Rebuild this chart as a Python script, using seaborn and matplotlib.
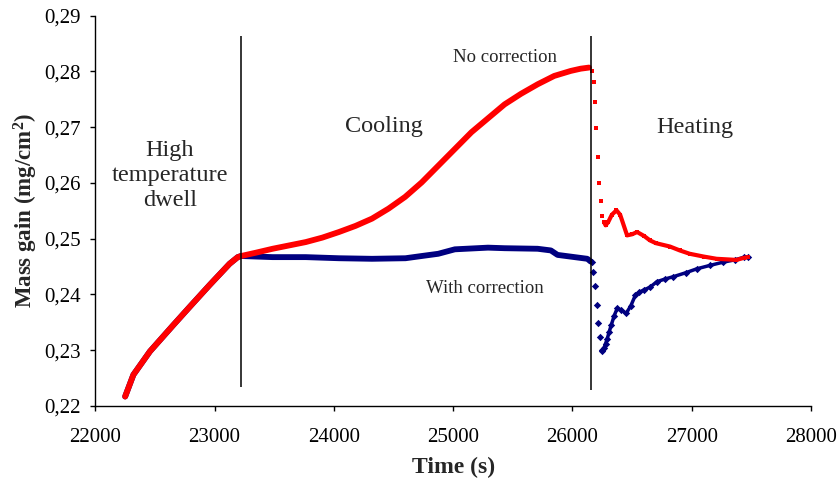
import numpy as np
import pandas as pd
import seaborn as sns
import matplotlib
matplotlib.use("Agg")
import matplotlib.pyplot as plt
from matplotlib.ticker import FuncFormatter

# dwell segment (both curves overlap here)
time_dwell = [22250, 22319, 22458, 22653, 22792, 22958, 23125, 23194, 23222]
mass_dwell = [0.2217, 0.2256, 0.2298, 0.2345, 0.2378, 0.2417, 0.2455, 0.2467, 0.2469]

# cooling segment
time_cool_red = [23222, 23347, 23486, 23625, 23764, 23903, 24042, 24181, 24319, 24458, 24597, 24736,
                 24875, 25014, 25153, 25292, 25431, 25569, 25708, 25847, 25986, 26069, 26139]
red_cool = [0.2469, 0.2475, 0.2482, 0.2488, 0.2494, 0.2502, 0.2512, 0.2523, 0.2536, 0.2554, 0.2575, 0.2601,
            0.2631, 0.2661, 0.2691, 0.2716, 0.2741, 0.2760, 0.2777, 0.2792, 0.2801, 0.2805, 0.2807]
time_cool_blue = [23222, 23486, 23764, 24042, 24319, 24600, 24736, 24875, 25014, 25292, 25431, 25708,
                  25819, 25875, 26125, 26153]
blue_cool = [0.2469, 0.2467, 0.2467, 0.2465, 0.2464, 0.2465, 0.2469, 0.2473, 0.2481, 0.2484, 0.2483, 0.2482,
             0.2479, 0.2471, 0.2464, 0.2459]

# heating: fast drop (separate points)
time_drop_red = [26161, 26181, 26189, 26200, 26214, 26225, 26236, 26250]
red_drop = [0.2801, 0.2781, 0.2746, 0.2698, 0.2646, 0.2600, 0.2568, 0.2541]
time_drop_blue = [26161, 26175, 26189, 26203, 26214, 26228, 26244]
blue_drop = [0.2458, 0.2441, 0.2415, 0.2382, 0.2348, 0.2323, 0.2301]

# heating: recovery
time_heat_red = [26264, 26278, 26300, 26330, 26369, 26400, 26458, 26500, 26542, 26600, 26650,
                 26700, 26817, 26900, 26983, 27100, 27208, 27375, 27442, 27470]
red_heat = [0.2530, 0.2524, 0.2530, 0.2543, 0.2551, 0.2543, 0.2506, 0.2508, 0.2512, 0.2505, 0.2497,
            0.2492, 0.2486, 0.2479, 0.2473, 0.2468, 0.2464, 0.2462, 0.2466, 0.2467]
time_heat_blue = [26250, 26264, 26278, 26292, 26308, 26325, 26350, 26375, 26410, 26450, 26490, 26528,
                  26560, 26597, 26650, 26708, 26780, 26847, 26950, 27042, 27150, 27264, 27360, 27442, 27470]
blue_heat = [0.2298, 0.2304, 0.2312, 0.2321, 0.2333, 0.2345, 0.2362, 0.2375, 0.2372, 0.2366, 0.2380, 0.2399,
             0.2404, 0.2408, 0.2413, 0.2423, 0.2428, 0.2432, 0.2439, 0.2446, 0.2452, 0.2458, 0.2462, 0.2467, 0.2467]

phase_lines = [23222, 26158]
x_ticks = [22000, 23000, 24000, 25000, 26000, 27000, 28000]
y_ticks = [0.22, 0.23, 0.24, 0.25, 0.26, 0.27, 0.28, 0.29]

RED = "#ff0000"
BLUE = "#000080"

sns.set_style("ticks")
plt.rcParams['font.family'] = ['Liberation Serif', 'DejaVu Serif']
plt.rcParams['mathtext.default'] = 'regular'

fig, ax = plt.subplots(figsize=(8.4, 4.82), dpi=100)
fig.subplots_adjust(left=0.1135, right=0.9655, bottom=0.1577, top=0.9674)

# blue (with correction) first, red overlays it in the dwell part
sns.lineplot(x=time_dwell + time_cool_blue[1:], y=mass_dwell + blue_cool[1:], color=BLUE,
             lw=4.2, ax=ax, sort=False, solid_capstyle='round')
sns.lineplot(x=time_heat_blue, y=blue_heat, color=BLUE, lw=2.5, ax=ax, sort=False)
sns.scatterplot(x=time_drop_blue + time_heat_blue, y=blue_drop + blue_heat, color=BLUE,
                marker='D', s=14, linewidth=0, ax=ax)

sns.lineplot(x=time_dwell + time_cool_red[1:], y=mass_dwell + red_cool[1:], color=RED,
             lw=4.2, ax=ax, sort=False, solid_capstyle='round')
sns.lineplot(x=time_heat_red, y=red_heat, color=RED, lw=3, ax=ax, sort=False)
sns.scatterplot(x=time_drop_red + time_heat_red, y=red_drop + red_heat, color=RED,
                marker='s', s=12, linewidth=0, ax=ax)

ax.vlines(phase_lines[0], 0.2234, 0.2864, color='black', lw=1.1)
ax.vlines(phase_lines[1], 0.2229, 0.2864, color='black', lw=1.1)

ax.text(22625, 0.2614, "High\ntemperature\ndwell", ha='center', va='center', fontsize=17.5,
        linespacing=1.25)
ax.text(24417, 0.2702, "Cooling", ha='center', va='center', fontsize=17.5)
ax.text(27025, 0.2700, "Heating", ha='center', va='center', fontsize=17.5)
ax.text(25433, 0.2825, "No correction", ha='center', va='center', fontsize=13.5)
ax.text(25267, 0.2411, "With correction", ha='center', va='center', fontsize=13.5)

ax.set_xlim(22000, 28000)
ax.set_ylim(0.22, 0.29)
ax.set_xticks(x_ticks)
ax.set_yticks(y_ticks)
ax.yaxis.set_major_formatter(FuncFormatter(lambda v, p: "{:.2f}".format(v).replace('.', ',')))
ax.tick_params(axis='both', labelsize=15, direction='out', length=3.6, width=1, colors='black')
ax.tick_params(axis='x', pad=12)
ax.tick_params(axis='y', pad=7)
ax.set_xlabel("Time (s)", fontsize=17, fontweight='bold', labelpad=7)
ax.set_ylabel("Mass gain (mg/cm$^2$)", fontsize=16.5, fontweight='bold', labelpad=3)
sns.despine(ax=ax)
for sp in ['left', 'bottom']:
    ax.spines[sp].set_color('black')
    ax.spines[sp].set_linewidth(1)

plt.savefig("out.png", dpi=100)
